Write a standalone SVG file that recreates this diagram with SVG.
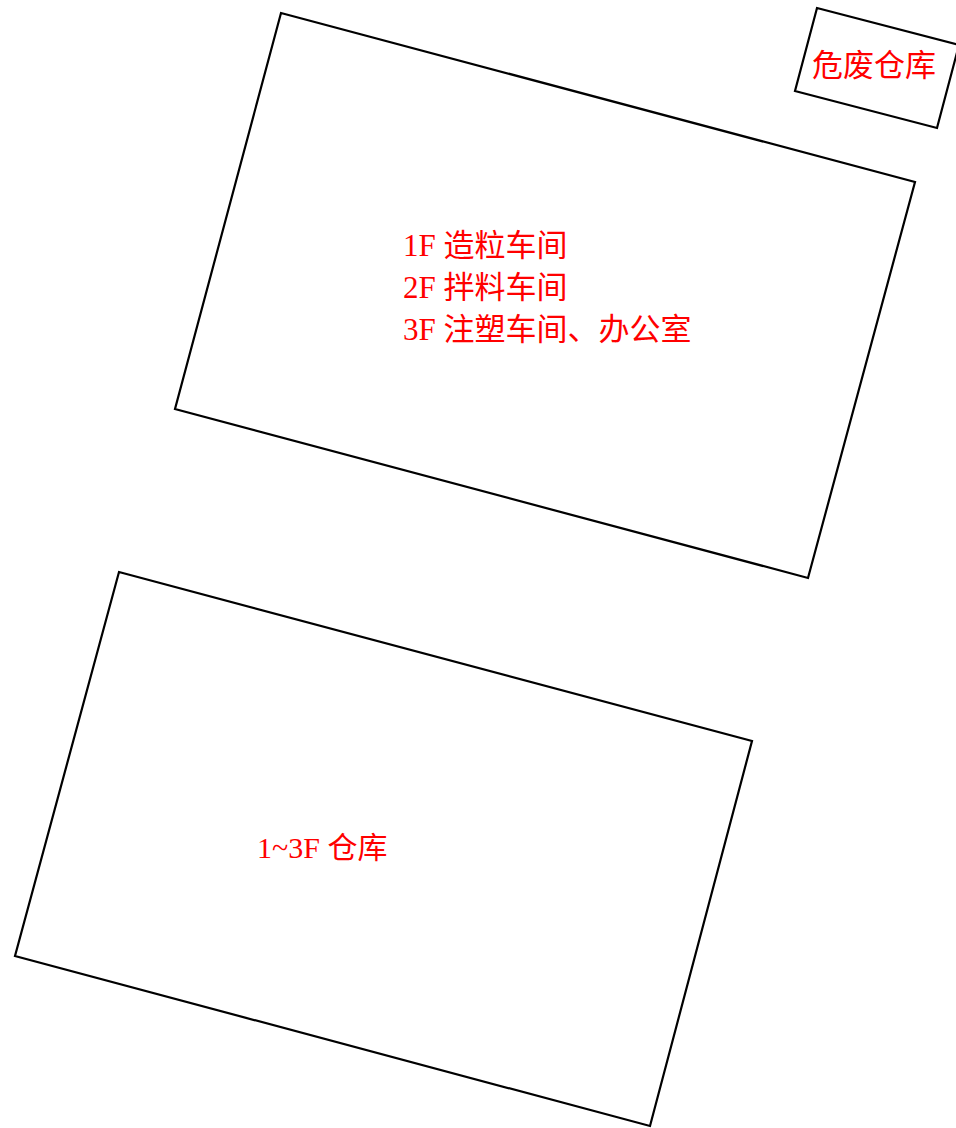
<svg xmlns="http://www.w3.org/2000/svg" width="956" height="1128" viewBox="0 0 956 1128">
<style>
.b{fill:none;stroke:#000;stroke-width:2.2;stroke-linejoin:miter}
.t{font-family:"Liberation Serif","Noto Sans CJK SC",serif;font-size:31px;fill:#ff0000}
.s{font-size:30px}
</style>
<rect width="956" height="1128" fill="#fff"/>
<g id="main-building">
<polygon class="b" points="281,13 915,182 808,578 175,409"/>
<text class="t" x="403" y="256">1F 造粒车间</text>
<text class="t" x="403" y="298">2F 拌料车间</text>
<text class="t" x="403" y="340">3F 注塑车间、办公室</text>
</g>
<g id="hazardous-warehouse">
<polygon class="b" points="817,8 959,45 937,128 795,91"/>
<text class="t" x="812" y="76">危废仓库</text>
</g>
<g id="warehouse">
<polygon class="b" points="119,572 752,741 650,1126 15,956"/>
<text class="t s" x="257" y="858">1~3F 仓库</text>
</g>
<g id="connectors"></g>
</svg>
